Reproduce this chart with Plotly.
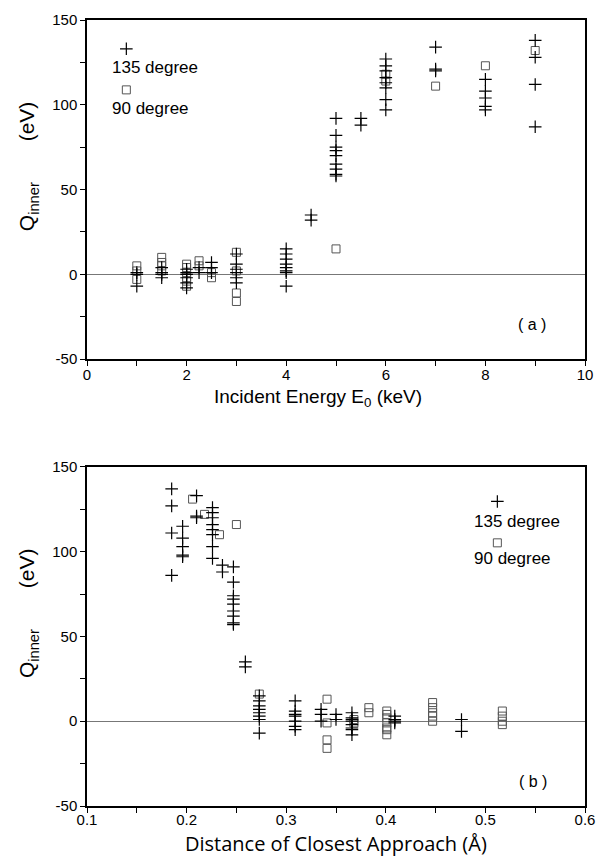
import plotly.graph_objects as go

# ---------------- data ----------------
# panel (a): incident energy (keV) -> Q_inner (eV)
energy_135 = [1, 1.5, 2, 2.25, 2.5, 3, 4, 4.5, 5, 5.5, 6, 7, 8, 9]
q_energy_135 = [
    [1, 0, -7],
    [4, 1, 0, -2],
    [3, 1, 0, -2, -5, -8],
    [4, 1],
    [7, 4, 1],
    [12, 6, 3, 1, -2, -5],
    [15, 12, 9, 6, 4, 2, 1, -7],
    [35, 32],
    [92, 82, 75, 73, 70, 65, 62, 59, 58],
    [92, 88],
    [127, 123, 120, 116, 113, 110, 103, 97],
    [134, 121, 120],
    [115, 108, 104, 99, 97],
    [138, 128, 112, 87],
]
energy_90 = [1, 1.5, 2, 2.25, 2.5, 3, 5, 6, 7, 8, 9]
q_energy_90 = [
    [5, 2, -3],
    [10, 7, 5, 2],
    [6, 4, 1, -2, -4, -7],
    [8, 5],
    [1, -2],
    [13, 2, -11, -16],
    [15],
    [118, 114],
    [111],
    [123],
    [132],
]

# panel (b): distance of closest approach (Å) -> Q_inner (eV)
dist_135 = [0.185, 0.196, 0.21, 0.226, 0.236, 0.247, 0.259, 0.273,
            0.309, 0.335, 0.35, 0.366, 0.409, 0.476]
q_dist_135 = [
    [137, 127, 111, 86],
    [115, 108, 103, 98, 97],
    [133, 121, 120],
    [126, 123, 120, 116, 113, 110, 103, 96],
    [92, 88],
    [91, 82, 74, 72, 69, 65, 62, 58, 57],
    [35, 32],
    [15, 12, 9, 7, 5, 3, 1, -7],
    [12, 6, 4, 3, 0, -3, -5],
    [7, 4, 0],
    [4, 1],
    [5, 2, 1, 0, -2, -4, -5, -8],
    [3, 1, 0, -1],
    [1, -6],
]
dist_90 = [0.206, 0.218, 0.233, 0.25, 0.273, 0.341, 0.368, 0.383,
           0.401, 0.447, 0.517]
q_dist_90 = [
    [131],
    [122],
    [110],
    [116],
    [16],
    [13, -1, -11, -16],
    [1, -1],
    [8, 5],
    [6, 4, 2, -1, -4, -5, -8],
    [11, 8, 5, 3, 0],
    [6, 3, 0, -2],
]

y_tickvals = [-50, 0, 50, 100, 150]
y_ticktext = ["-50", "0", "50", "100", "150"]
series_names = ["135 degree", "90 degree"]


def expand(xs, groups):
    ox, oy = [], []
    for x, g in zip(xs, groups):
        for v in g:
            ox.append(x)
            oy.append(v)
    return ox, oy


# ---------------- styles ----------------
FONT = "Liberation Sans, Arial, sans-serif"
CROSS = dict(symbol="cross-thin-open", size=9, color="black",
             line=dict(color="black", width=1.2))
SQUARE = dict(symbol="square-open", size=8, color="#555",
              line=dict(color="#555", width=1))

fig = go.Figure()

panels = [
    ("x", "y", energy_90, q_energy_90, energy_135, q_energy_135),
    ("x2", "y2", dist_90, q_dist_90, dist_135, q_dist_135),
]
for xa, ya, x90, q90, x135, q135 in panels:
    sx, sy = expand(x90, q90)
    fig.add_trace(go.Scatter(x=sx, y=sy, mode="markers", marker=SQUARE,
                             xaxis=xa, yaxis=ya, showlegend=False,
                             name=series_names[1]))
    cx, cy = expand(x135, q135)
    fig.add_trace(go.Scatter(x=cx, y=cy, mode="markers", marker=CROSS,
                             xaxis=xa, yaxis=ya, showlegend=False,
                             name=series_names[0]))

# legend keys drawn on invisible overlay axes (fractions of the panel)
legend_pos = [("x3", "y3", 0.079, 0.915, 0.794, 0.046, 0.859, 0.740),
              ("x4", "y4", 0.824, 0.898, 0.776, 0.774, 0.840, 0.729)]
for xa, ya, kx, ky1, ky2, tx, ty1, ty2 in legend_pos:
    fig.add_trace(go.Scatter(x=[kx], y=[ky1], mode="markers", marker=CROSS,
                             xaxis=xa, yaxis=ya, showlegend=False, hoverinfo="skip"))
    fig.add_trace(go.Scatter(x=[kx], y=[ky2], mode="markers", marker=SQUARE,
                             xaxis=xa, yaxis=ya, showlegend=False, hoverinfo="skip"))
    for t, ty in zip(series_names, [ty1, ty2]):
        fig.add_annotation(x=tx, y=ty, xref=xa, yref=ya, text=t, showarrow=False,
                           xanchor="left", yanchor="middle",
                           font=dict(family=FONT, size=17, color="black"))

axis_common = dict(showline=True, linecolor="black", linewidth=1.5, mirror=True,
                   ticks="outside", ticklen=5, tickwidth=1, tickcolor="black",
                   showgrid=False, tickfont=dict(family=FONT, size=15, color="black"))
minor_common = dict(ticks="outside", ticklen=5, tickwidth=1, tickcolor="black", showgrid=False)

# plot area: 11 px top margin, 50 px bottom margin -> 795 px tall
top_dom = [(806 - 354) / 795, 1.0]
bot_dom = [0.0, (806 - 463) / 795]

fig.update_layout(
    width=606, height=856,
    margin=dict(l=87, r=14, t=11, b=50),
    paper_bgcolor="white", plot_bgcolor="rgba(0,0,0,0)",
    showlegend=False,
    xaxis=dict(domain=[0, 1], anchor="y", range=[0, 10], tick0=0, dtick=2,
               ticklabelstandoff=-4,
               zeroline=False, minor=dict(dtick=1, tick0=0, **minor_common), **axis_common),
    yaxis=dict(domain=top_dom, anchor="x", range=[-50, 150], tickmode="array",
               tickvals=y_tickvals, ticktext=y_ticktext,
               zeroline=True, zerolinecolor="#777", zerolinewidth=1,
               minor=dict(dtick=25, tick0=0, **minor_common), **axis_common),
    xaxis2=dict(domain=[0, 1], anchor="y2", range=[0.1, 0.6], tick0=0.1, dtick=0.1,
                ticklabelstandoff=-6,
                zeroline=False, minor=dict(dtick=0.05, tick0=0.1, **minor_common), **axis_common),
    yaxis2=dict(domain=bot_dom, anchor="x2", range=[-50, 150], tickmode="array",
                tickvals=y_tickvals, ticktext=y_ticktext,
                zeroline=True, zerolinecolor="#777", zerolinewidth=1,
                minor=dict(dtick=25, tick0=0, **minor_common), **axis_common),
    xaxis3=dict(domain=[0, 1], anchor="y3", range=[0, 1], visible=False),
    yaxis3=dict(domain=top_dom, anchor="x3", range=[0, 1], visible=False),
    xaxis4=dict(domain=[0, 1], anchor="y4", range=[0, 1], visible=False),
    yaxis4=dict(domain=bot_dom, anchor="x4", range=[0, 1], visible=False),
)

# panel labels
fig.add_annotation(x=0.925, y=0.07, xref="x domain", yref="y domain", text="( a )",
                   showarrow=False, font=dict(family=FONT, size=16, color="black"))
fig.add_annotation(x=0.927, y=0.042, xref="x2 domain", yref="y2 domain", text="( b )",
                   showarrow=False, font=dict(family=FONT, size=16, color="black"))

# axis titles
ytitle = "Q<sub>inner</sub>" + "\u00a0" * 7 + "(eV)"
for yc in [(top_dom[0] + top_dom[1]) / 2 + 0.03, (bot_dom[0] + bot_dom[1]) / 2 + 0.03]:
    fig.add_annotation(x=-0.118, y=yc, xref="paper", yref="paper", text=ytitle,
                       textangle=-90, showarrow=False, xanchor="center", yanchor="middle",
                       font=dict(family=FONT, size=21, color="black"))
fig.add_annotation(x=0.463, y=(806 - 393) / 795, xref="paper", yref="paper",
                   text="Incident Energy E<sub>0</sub> (keV)", showarrow=False,
                   xanchor="center", yanchor="middle",
                   font=dict(family=FONT, size=19, color="black"))
fig.add_annotation(x=0.5, y=(806 - 843.5) / 795, xref="paper", yref="paper",
                   text="Distance of Closest Approach (Å)", showarrow=False,
                   xanchor="center", yanchor="middle",
                   font=dict(family="Open Sans, DejaVu Sans, sans-serif", size=20, color="black"))

fig.write_html("out.html", config={"displayModeBar": False},
               post_script="document.body.style.margin='0';")
